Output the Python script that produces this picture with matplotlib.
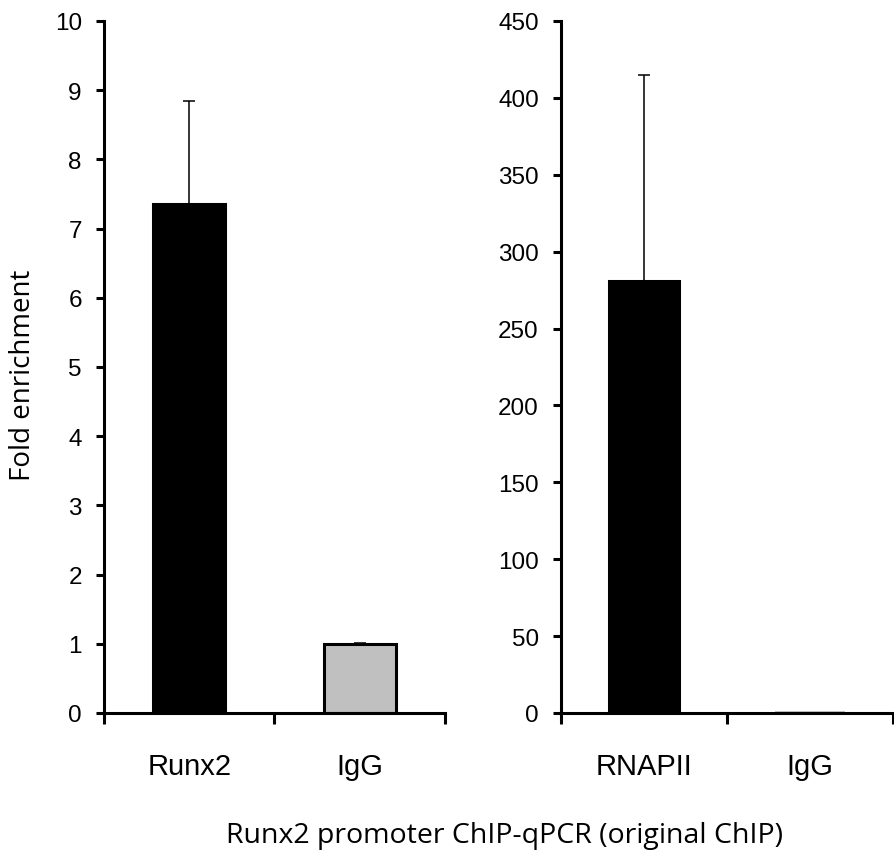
import matplotlib
matplotlib.use('Agg')
import matplotlib.pyplot as plt
import numpy as np

# ChIP-qPCR values
left_labels = ['Runx2', 'IgG']
left_values = [7.35, 1.0]
left_errors = [1.5, 0.01]

right_labels = ['RNAPII', 'IgG']
right_values = [281.0, 1.0]
right_errors = [134.0, 0.0]

bar_colors = ['black', '#c0c0c0']

plt.rcParams['font.family'] = ['Liberation Sans', 'DejaVu Sans']
label_font = ['Open Sans', 'DejaVu Sans']

fig = plt.figure(figsize=(8.95, 8.54), dpi=100)
ax1 = fig.add_axes([104/895, 1 - 714/854, (445 - 104)/895, (714 - 22)/854])
ax2 = fig.add_axes([561/895, 1 - 714/854, (893 - 561)/895, (714 - 22)/854])


def panel(ax, labels, values, errors, ymax, ystep):
    pos = np.arange(len(labels)) + 0.5
    for i in range(len(labels)):
        # a bar too small to see sits under the axis line in the original
        lw = 2.2 if values[i] > ymax * 0.01 else 0
        ax.bar(pos[i], values[i], width=0.42, color=bar_colors[i],
               edgecolor='black', linewidth=lw, zorder=2)
        if errors[i] > 0:
            ax.errorbar(pos[i], values[i], yerr=[[0], [errors[i]]], fmt='none',
                        ecolor='black', elinewidth=1.1, capsize=4, capthick=1.1,
                        zorder=3)
    ax.set_xlim(0, len(labels))
    ax.set_ylim(0, ymax)
    ax.set_yticks(np.arange(0, ymax + ystep / 2, ystep))
    ax.set_xticks(np.arange(0, len(labels) + 1))
    ax.set_xticklabels([])
    ax.set_xticks(pos, minor=True)
    ax.set_xticklabels(labels, minor=True, fontsize=21)
    ax.tick_params(axis='x', which='minor', length=0, pad=28)
    ax.tick_params(axis='x', which='major', direction='out', length=8, width=2.2)
    ax.tick_params(axis='y', direction='out', length=5.5, width=2.2, pad=10.5,
                   labelsize=17.5)
    for s in ['top', 'right']:
        ax.spines[s].set_visible(False)
    for s in ['left', 'bottom']:
        ax.spines[s].set_linewidth(2.2)
        ax.spines[s].set_zorder(4)


panel(ax1, left_labels, left_values, left_errors, 10, 1)
panel(ax2, right_labels, right_values, right_errors, 450, 50)

fig.text(23/895, 1 - 375/854, 'Fold enrichment', rotation=90, ha='center',
         va='center', fontsize=20, family=label_font)
fig.text(505/895, 1 - 836/854, 'Runx2 promoter ChIP-qPCR (original ChIP)',
         ha='center', va='center', fontsize=20.5, family=label_font)

fig.savefig('out.png', dpi=100)
